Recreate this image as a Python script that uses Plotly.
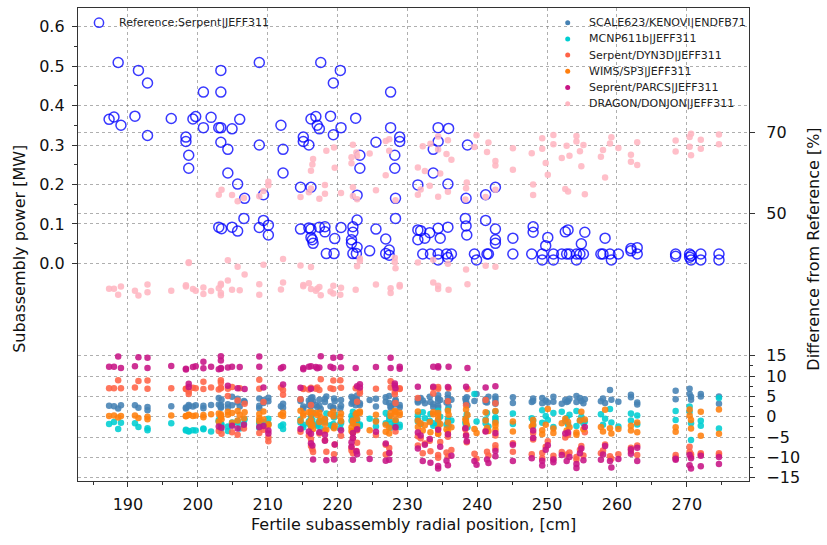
import plotly.graph_objects as go

# Radial position [cm] and reference (Serpent|JEFF311) subassembly power [MW]
x_ref = [
    187.3, 188.0, 188.6, 189.0, 191.0, 191.5, 192.8, 192.8, 196.2,
    198.3, 198.3, 198.7, 198.7, 199.3, 199.7, 200.8, 200.8, 201.9,
    203.0, 203.3, 203.3, 203.3, 203.3, 203.0, 203.4, 204.3, 204.3, 204.9, 204.9, 205.7, 205.7, 206.0, 206.7, 206.6,
    208.8, 208.8, 208.8, 209.4, 209.4, 210.1, 210.1, 211.9, 212.2, 212.2,
    214.7, 214.7, 215.1, 215.1, 215.9, 215.9, 216.2, 216.2, 216.2, 216.2, 216.4, 216.5, 216.9, 217.1, 217.4, 217.4, 217.6,
    218.2, 218.2, 218.4, 219.0, 219.4, 219.4, 219.5, 219.6, 220.4, 220.5, 220.5,
    222.0, 222.0, 222.2, 222.2, 222.2, 222.6, 222.7, 222.8, 222.8, 222.8, 223.2, 223.2,
    224.6, 225.5, 225.5, 226.9, 226.9, 227.4, 227.4, 227.6, 227.6, 228.2, 228.2, 228.3, 228.3, 228.9, 228.9,
    231.5, 231.5, 231.5, 231.9, 232.2, 232.5, 233.2, 233.3, 233.7, 233.7, 234.4, 234.4, 234.4, 234.4, 234.4, 234.7, 235.6, 235.8, 235.8, 235.8, 235.9, 236.3,
    238.3, 238.4, 238.4, 238.5, 238.6, 239.6, 239.9, 241.2, 241.2, 241.4, 241.6, 242.6, 242.6, 242.6, 242.6,
    245.1, 245.1, 247.8, 248.0, 248.0, 249.3, 249.3, 249.8, 250.1, 250.9, 250.9, 252.1, 252.6, 252.8, 253.0, 253.2, 254.2, 254.2, 254.7, 254.9, 255.2, 255.4,
    257.7, 258.0, 258.3, 259.0, 259.2, 260.2, 262.0, 262.0, 262.9, 262.9,
    268.4, 268.4, 270.4, 270.4, 270.6, 270.6, 272.0, 272.0, 274.6, 274.6,
]
p_ref = [
    .365, .371, .509, .350, .373, .489, .457, .324, .367,
    .320, .309, .274, .241, .366, .372, .434, .344, .370,
    .344, .344, .489, .434, .307, .092, .088, .289, .229, .341, .092, .201, .082, .365, .165, .114,
    .509, .300, .091, .174, .109, .097, .072, .350, .289, .229,
    .193, .087, .320, .309, .300, .090, .366, .193, .087, .066, .060, .051, .372, .350, .341, .092, .509,
    .093, .080, .025, .373, .457, .326, .025, .063, .489, .344, .091,
    .060, .051, .093, .079, .025, .368, .025, .173, .110, .041, .274, .241,
    .032, .307, .087, .062, .025, .034, .021, .434, .344, .274, .241, .165, .114, .320, .309,
    .199, .085, .060, .083, .024, .064, .078, .024, .289, .229, .344, .309, .089, .024, .009, .064, .024, .201, .092, .015, .342, .024,
    .114, .165, .095, .072, .300, .024, .009, .174, .109, .024, .024, .193, .087, .060, .051,
    .064, .024, .024, .093, .079, .024, .009, .045, .066, .024, .009, .024, .080, .024, .085, .024, .024, .009, .024, .050, .024, .079,
    .024, .024, .064, .024, .009, .024, .038, .032, .040, .024,
    .024, .018, .024, .016, .009, .020, .024, .009, .024, .009,
]

# Difference from reference [%], same ordering as x_ref
d_scale = [
    2.7, 2.6, 2.0, 2.8, 2.8, 2.2, 2.4, 1.6, 2.6,
    2.0, 2.3, 2.6, 2.9, 2.5, 2.8, 2.1, 2.7, 2.9,
    3.0, 2.6, 2.2, 2.4, 2.9, 4.6, 4.2, 2.3, 3.1, 2.8, 4.9, 3.5, 4.4, 2.5, 3.6, 3.9,
    2.1, 2.7, 4.5, 3.4, 4.1, 4.7, 3.8, 2.6, 2.2, 3.2,
    3.9, 4.3, 2.0, 2.5, 2.8, 4.0, 2.6, 3.7, 4.6, 3.3, 4.8, 3.9, 2.9, 2.4, 2.7, 4.2, 1.9,
    3.6, 4.4, 5.0, 2.6, 2.3, 2.1, 4.5, 3.8, 2.0, 2.7, 4.1,
    3.2, 4.9, 3.9, 4.6, 3.5, 2.8, 4.3, 3.6, 4.0, 5.2, 3.3, 2.9,
    4.1, 2.5, 4.4, 3.7, 4.8, 3.4, 5.1, 2.2, 2.6, 3.0, 3.4, 3.9, 4.2, 2.3, 2.9,
    3.5, 4.3, 3.8, 4.6, 4.0, 3.3, 4.9, 3.6, 2.4, 3.1, 2.7, 2.2, 4.5, 3.9, 5.3, 4.1, 3.5, 3.8, 4.7, 5.5, 2.6, 4.2,
    4.4, 3.3, 3.8, 4.8, 2.8, 3.9, 5.6, 3.6, 4.3, 3.5, 4.9, 3.2, 4.4, 3.7, 5.0,
    3.4, 4.8, 3.6, 4.5, 3.9, 4.6, 3.3, 4.0, 3.5, 4.9, 3.7, 3.2, 4.1, 3.6, 3.8, 4.4, 5.1, 3.6, 4.6, 3.9, 3.3, 4.3,
    3.8, 4.5, 3.4, 6.6, 4.2, 3.7, 5.4, 4.8, 3.5, 3.0,
    6.4, 4.3, 6.9, 5.6, 4.2, 4.9, 5.6, 5.0, 5.0, 3.2,
]
d_mcnp = [
    -1.8, -1.3, -3.0, -1.5, -1.6, -2.5, -2.8, -3.3, -1.6,
    -3.2, -3.4, -3.5, -3.6, -3.3, -3.4, -3.1, -2.9, -3.6,
    -1.2, -2.2, -3.0, -1.8, -2.6, -0.8, -1.9, -3.5, -2.4, -1.4, -2.0, -1.0, -1.5, -2.9, -0.6, -1.7,
    -2.7, -1.6, -0.9, -1.3, -2.1, -0.5, -1.8, -2.3, -3.0, -1.9,
    -0.7, -1.4, -2.6, -2.0, -1.7, -1.1, -2.4, -0.4, -1.6, 0.3, -0.8, 1.0, -1.9, -2.2, -1.5, -1.0, -2.9,
    -1.3, -0.6, 0.8, -2.1, -2.6, -1.8, -0.2, 0.5, -2.8, -1.6, -1.2,
    0.2, -0.9, -1.5, -0.3, 1.2, -2.0, -1.1, -0.8, -1.7, 0.6, -2.3, -1.9,
    -0.5, -2.4, -1.0, 0.9, -1.6, 0.1, -0.7, -2.7, -1.8, -2.2, -1.4, -0.9, -1.3, -2.5, -2.0,
    -0.6, -1.2, 0.4, -1.8, 1.1, -0.4, -1.0, 0.7, -2.2, -1.6, -2.4, -1.9, -0.8, -1.4, 1.5, 0.0, -2.0, -0.5, -1.1, 1.8, -2.3, -0.9,
    -1.5, -0.3, -2.1, 0.6, -2.6, 5.6, -1.2, -0.7, -1.6, 0.9, -2.4, -0.2, -1.3, 1.3, -0.6,
    0.8, -1.8, -0.4, -1.0, -2.2, 1.6, -1.5, 0.2, -0.8, 0.9, -2.5, 1.2, -1.1, -0.3, -1.9, 0.5, -2.3, 1.4, -0.9, 0.0, -1.6, -1.2,
    0.6, -2.0, -0.5, 1.9, -1.4, -2.4, 0.8, -0.9, -1.9, 0.3,
    1.4, -0.8, 2.5, 1.2, -1.6, -5.7, -2.2, -1.0, 4.6, -2.9,
]
d_dyn3d = [
    7.0, 7.0, 9.0, 7.0, 7.2, 8.8, 8.9, 6.9, 7.0,
    6.8, 6.9, 5.6, 6.2, 7.1, 7.0, 8.6, 6.8, 7.2,
    6.7, 7.0, 9.0, 8.4, 7.1, -3.5, -4.2, 6.9, 5.1, 7.3, -3.8, 4.0, -4.4, 7.0, 3.2, -2.9,
    9.1, 6.9, -4.0, 3.6, -3.2, -5.1, -6.0, 7.2, 6.6, 5.4,
    4.3, -3.7, 6.8, 7.0, 6.7, -4.6, 7.1, 2.9, -5.5, -7.2, -8.0, -8.7, 6.9, 7.2, 6.6, -4.1, 9.2,
    -3.4, -5.8, -8.6, 7.0, 8.9, 6.8, -9.2, -6.8, 9.0, 7.1, -4.7,
    -7.6, -8.3, -3.9, -5.2, -9.0, 7.0, -8.4, 3.7, -3.3, -6.4, 5.8, 6.3,
    -8.8, 6.9, -4.5, -6.9, -9.3, -7.7, -8.9, 8.7, 7.2, 5.5, 6.1, 3.4, -3.6, 6.8, 7.0,
    4.6, -4.8, -7.1, -5.3, -9.0, -6.6, -5.9, -8.5, 7.1, 5.7, 6.9, 7.3, -4.2, -9.4, -10.1, -6.2, -8.8, 3.8, -4.9, -9.7, 7.0, -8.2,
    -3.1, 2.8, -4.4, -6.3, 6.8, -9.1, -10.3, 4.1, -3.5, -8.6, -9.5, 3.3, -4.6, -7.0, -7.8,
    -6.5, -8.6, -9.2, -4.0, -5.6, -8.9, -10.2, -7.4, -6.0, -9.6, -10.4, -8.7, -5.1, -9.3, -4.5, -8.8, -9.9, -10.5, -8.1, -7.2, -9.5, -3.8,
    -9.0, -8.3, -6.8, -9.7, -10.3, -9.2, -7.6, -8.4, -7.1, -9.4,
    -9.4, -10.0, -7.4, -8.6, -9.8, -9.2, -9.0, -9.3, -9.0, -9.4,
]
d_wims = [
    0.2, 0.3, -0.2, 0.2, 0.3, -0.3, 0.0, -0.6, 0.3,
    0.2, 0.1, 0.4, 0.5, 0.2, 0.3, -0.1, 0.4, 0.6,
    0.8, 0.3, -0.2, 0.1, 0.6, -1.2, -0.6, 0.5, 1.2, 0.9, -1.5, 1.4, -0.9, 0.4, 1.1, -0.4,
    -0.3, 0.7, -1.1, 1.3, -0.7, -1.8, -2.1, 0.5, 0.2, 1.0,
    1.5, -1.0, 0.3, 0.8, 1.1, -1.4, 0.6, 1.2, -0.8, -2.4, -1.9, -3.0, 0.9, 0.4, 1.0, -1.3, -0.1,
    -0.6, -1.7, -3.2, 0.7, 0.1, 1.2, -2.8, -2.2, 0.0, 0.8, -1.1,
    -2.6, -3.5, -0.9, -1.6, -3.9, 0.6, -2.9, 1.0, -0.5, -2.3, 1.3, 0.9,
    -3.3, 0.5, -1.2, -2.0, -3.7, -2.7, -4.1, 0.2, 0.9, 1.4, 0.7, 1.2, -0.8, 0.4, 1.0,
    1.3, -1.0, -2.5, -1.6, -3.4, -2.1, -1.3, -3.8, 0.6, 1.1, 0.3, 0.9, -0.7, -2.9, -4.2, -1.8, -3.1, 1.5, -1.4, -3.6, 0.5, -2.6,
    -0.6, 1.8, -1.2, -2.0, 0.4, -3.0, -4.0, 1.1, -0.9, -2.7, -3.5, 1.4, -1.5, -2.2, -3.2,
    -1.2, -3.6, -2.4, -0.8, -1.9, -3.3, -4.3, -2.0, 1.9, -2.9, -4.0, -1.6, -0.5, -3.4, -1.3, -2.6, -3.9, -4.4, -0.9, 1.2, -3.1, -0.7,
    -2.5, -3.6, 1.7, -2.8, -4.1, -3.0, -2.2, -3.4, -1.4, -3.8,
    -2.6, -3.7, 1.8, 0.3, -0.8, -2.9, 1.2, -4.7, 1.8, -4.2,
]
d_parcs = [
    12.3, 12.3, 14.8, 12.0, 12.4, 14.6, 14.5, 12.0, 12.5,
    11.8, 11.6, 7.3, 8.1, 12.2, 12.4, 13.5, 11.9, 12.3,
    11.7, 12.0, 14.9, 13.8, 11.8, -2.4, -2.7, 12.1, 7.6, 12.3, -2.2, 7.0, -2.9, 12.2, 6.8, -2.0,
    14.8, 12.3, -2.5, 7.2, -2.3, -3.4, -4.1, 11.9, 12.2, 7.9,
    7.1, -3.0, 11.7, 12.0, 12.3, -3.6, 12.4, 6.9, -4.2, -6.5, -7.1, -10.5, 12.2, 11.9, 12.1, -3.8, 14.9,
    -4.4, -5.9, -10.7, 12.3, 14.5, 12.0, -10.5, -6.8, 14.7, 12.1, -3.3,
    -6.3, -7.4, -4.0, -5.2, -10.6, 12.0, -8.5, 7.5, -3.1, -9.2, 7.2, 8.0,
    -10.4, 12.2, -3.7, -6.6, -10.8, -8.9, -10.6, 14.5, 12.0, 7.7, 8.2, 7.0, -2.6, 12.3, 11.8,
    7.4, -3.9, -7.8, -4.6, -10.9, -6.9, -5.5, -11.3, 12.3, 7.4, 12.4, 12.1, -3.2, -12.1, -12.7, -7.4, -10.8, 7.3, -4.3, -11.9, 12.3, -9.6,
    -2.8, 7.4, -4.7, -6.0, 12.0, -10.9, -11.8, 7.2, -3.6, -10.5, -11.4, 7.5, -4.0, -8.4, -9.7,
    -6.9, -10.9, -10.2, -3.4, -5.2, -10.8, -12.0, -8.1, -7.0, -10.5, -11.2, -9.4, -4.1, -10.9, -3.9, -9.9, -11.6, -12.6, -9.0, -7.8, -10.7, -2.5,
    -10.6, -9.3, -7.2, -10.9, -12.5, -10.4, -8.0, -9.1, -7.6, -10.9,
    -10.6, -10.3, -9.4, -11.9, -12.7, -10.2, -12.2, -9.6, -11.6, -9.9,
]
d_dragon = [
    31.5, 31.5, 30.0, 32.0, 31.0, 29.8, 30.6, 32.5, 31.0,
    32.0, 32.3, 37.8, 38.0, 31.4, 31.0, 30.2, 31.8, 30.9,
    31.6, 32.4, 29.9, 30.4, 32.7, 54.6, 55.8, 33.5, 38.5, 31.2, 54.5, 36.9, 53.0, 31.1, 35.0, 53.8,
    30.0, 32.6, 54.2, 37.4, 55.5, 56.9, 57.8, 31.3, 33.0, 38.8,
    37.2, 54.0, 32.1, 32.4, 32.8, 55.2, 31.4, 36.8, 56.1, 60.5, 62.0, 63.4, 31.0, 31.5, 31.9, 53.6, 29.9,
    54.8, 57.0, 65.4, 30.8, 30.3, 32.2, 66.2, 61.2, 30.0, 31.7, 55.0,
    62.3, 63.8, 54.3, 56.4, 66.9, 31.2, 65.0, 37.0, 53.5, 64.1, 38.3, 38.9,
    64.7, 32.5, 55.7, 59.4, 67.8, 65.4, 68.2, 30.4, 31.6, 38.0, 39.1, 36.5, 53.2, 32.0, 32.4,
    37.9, 54.6, 61.3, 55.9, 66.5, 60.4, 56.8, 67.1, 33.0, 38.6, 31.4, 32.2, 54.1, 65.7, 68.9, 59.8, 64.6, 37.6, 55.3, 68.0, 31.2, 63.2,
    53.4, 36.2, 56.2, 57.6, 32.6, 66.3, 69.2, 37.1, 54.0, 65.1, 67.4, 36.9, 55.8, 61.8, 62.9,
    60.7, 66.0, 64.8, 54.5, 57.1, 65.9, 68.5, 62.4, 59.5, 67.0, 69.3, 63.6, 56.0, 66.6, 55.4, 64.2, 67.7, 69.0, 65.3, 61.6, 66.8, 54.7,
    63.9, 65.6, 58.8, 67.2, 68.7, 66.1, 62.7, 64.4, 61.9, 67.5,
    65.2, 67.9, 66.4, 68.8, 64.3, 69.6, 65.9, 68.1, 67.0, 69.4,
]

ref_name = "Reference:Serpent|JEFF311"
ref_color = "rgba(0,0,255,0.78)"
series = [
    ("SCALE623/KENOVI|ENDFB71", d_scale, "#4682b4"),
    ("MCNP611b|JEFF311", d_mcnp, "#00ced1"),
    ("Serpent/DYN3D|JEFF311", d_dyn3d, "#ff6347"),
    ("WIMS/SP3|JEFF311", d_wims, "#ff7f0e"),
    ("Seprent/PARCS|JEFF311", d_parcs, "#c71585"),
    ("DRAGON/DONJON|JEFF311", d_dragon, "#ffb6c1"),
]

x_ticks = [190, 200, 210, 220, 230, 240, 250, 260, 270]
x_minor = [185, 195, 205, 215, 225, 235, 245, 255, 265, 275]
p_ticks = [0.0, 0.1, 0.2, 0.3, 0.4, 0.5, 0.6]
p_minor = [0.05, 0.15, 0.25, 0.35, 0.45, 0.55]
d_ticks = [-15, -10, -5, 0, 5, 10, 15, 50, 70]
d_minor = [-12.5, -7.5, -2.5, 2.5, 7.5, 12.5]

FONT = "DejaVu Sans"
AX = "#333333"
GRID = "rgba(110,110,110,0.55)"

# plot-area geometry in pixels (used for the hand-placed legends)
W, H = 827, 545
ML, MR, MT, MB = 78, 78, 8, 64
PW, PH = W - ML - MR, H - MT - MB


def px_to_paper(px, py):
    return (px - ML) / PW, (H - MB - py) / PH


fig = go.Figure()
fig.add_trace(go.Scatter(
    x=x_ref, y=p_ref, mode="markers", name=ref_name, yaxis="y", showlegend=False,
    marker=dict(symbol="circle-open", size=10, color=ref_color, line=dict(width=1.5)),
))
for name, vals, col in series:
    fig.add_trace(go.Scatter(
        x=x_ref, y=vals, mode="markers", name=name, yaxis="y2", showlegend=False,
        marker=dict(size=6.5, color=col, opacity=0.88, line=dict(width=0)),
    ))

# legend keys: open circle for the reference, small dots for the codes
shapes, annots = [], []
leg_font = dict(family=FONT, size=11, color="#222")


def legend_entry(mx, my, tx, label, color, r, open_marker=False):
    ax, ay = px_to_paper(mx, my)
    shapes.append(dict(
        type="circle", xref="paper", yref="paper", xsizemode="pixel", ysizemode="pixel",
        xanchor=ax, yanchor=ay, x0=-r, x1=r, y0=-r, y1=r,
        fillcolor="rgba(0,0,0,0)" if open_marker else color,
        line=dict(color=color, width=1.5 if open_marker else 0),
    ))
    tx_, ty_ = px_to_paper(tx, my)
    annots.append(dict(text=label, xref="paper", yref="paper", x=tx_, y=ty_,
                       xanchor="left", yanchor="middle", showarrow=False, font=leg_font))


legend_entry(99, 22.7, 117, ref_name, ref_color, 4.6, open_marker=True)
for i, (name, _, col) in enumerate(series):
    y = 22.7 + 16.2 * i
    legend_entry(567.7, y, 586.5, name, col, 2.5)

common = dict(showline=True, linecolor=AX, linewidth=1.3, ticks="outside", ticklen=5,
              tickwidth=1, tickcolor=AX, showgrid=True, gridcolor=GRID, griddash="dot",
              gridwidth=0.8, zeroline=False, tickfont=dict(family=FONT, size=16, color="#111"))

annots += [
    dict(text="Fertile subassembly radial position, [cm]", xref="paper", yref="paper",
         x=0.5, y=-0.093, xanchor="center", yanchor="middle", showarrow=False,
         font=dict(family=FONT, size=16, color="#111")),
    dict(text="Subassembly power [MW]", xref="paper", yref="paper", textangle=-90,
         x=-0.087, y=0.49, xanchor="center", yanchor="middle", showarrow=False,
         font=dict(family=FONT, size=16, color="#111")),
    dict(text="Difference from Reference [%]", xref="paper", yref="paper", textangle=-90,
         x=1.096, y=0.49, xanchor="center", yanchor="middle", showarrow=False,
         font=dict(family=FONT, size=16, color="#111")),
]

fig.update_layout(
    width=W, height=H,
    margin=dict(l=ML, r=MR, t=MT, b=MB),
    paper_bgcolor="white", plot_bgcolor="white",
    font=dict(family=FONT, color="#111"),
    showlegend=False,
    xaxis=dict(range=[182.85, 278.9], tickmode="array", tickvals=x_ticks, mirror=True,
               ticklabelstandoff=4,
               minor=dict(tickvals=x_minor, ticks="outside", ticklen=3, tickcolor=AX, showgrid=False),
               **common),
    yaxis=dict(range=[-0.551, 0.647], tickmode="array", tickvals=p_ticks,
               ticktext=[f"{v:.1f}" for v in p_ticks], ticklabelstandoff=4,
               minor=dict(tickvals=p_minor, ticks="outside", ticklen=3, tickcolor=AX, showgrid=False),
               **common),
    yaxis2=dict(range=[-15.8, 100.5], overlaying="y", side="right", tickmode="array",
                tickvals=d_ticks, ticktext=[str(v).replace("-", "\u2212") for v in d_ticks],
                ticklabelstandoff=8,
                minor=dict(tickvals=d_minor, ticks="outside", ticklen=3, tickcolor=AX, showgrid=False),
                **common),
    shapes=shapes,
    annotations=annots,
)

fig.write_html("out.html")
